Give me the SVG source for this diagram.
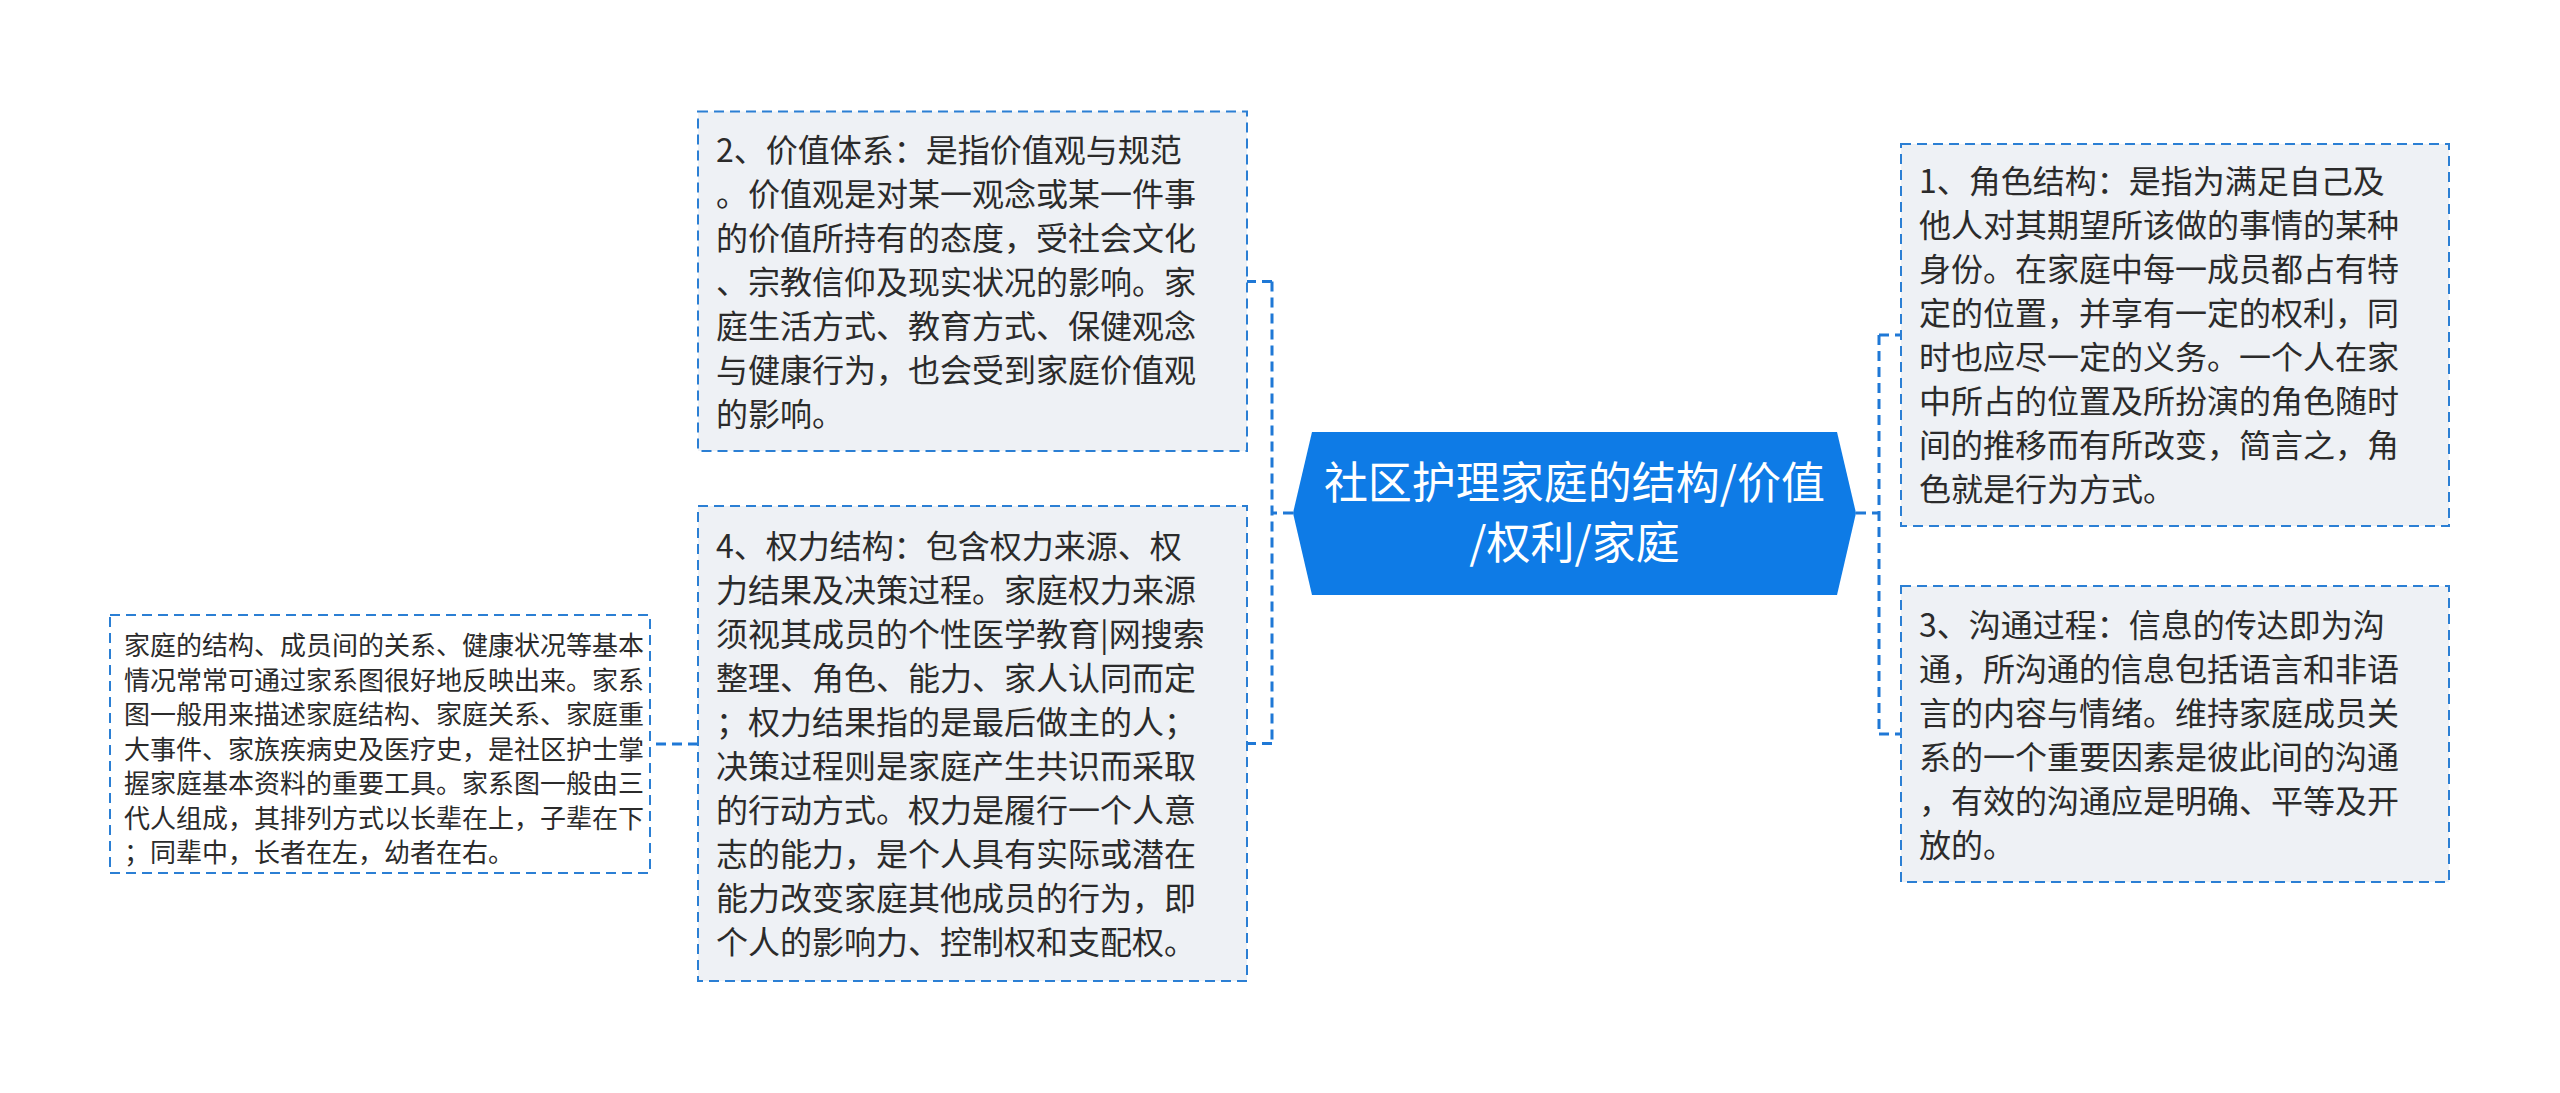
<svg xmlns="http://www.w3.org/2000/svg" width="2560" height="1093" viewBox="0 0 2560 1093">
<style>
.box{fill:#eef1f5;stroke:#2b7fd4;stroke-width:2;stroke-dasharray:10 6}
.box2{fill:#ffffff;stroke:#2b7fd4;stroke-width:2;stroke-dasharray:10 6}
.t{font-family:"Noto Sans CJK SC","Noto Sans",sans-serif;font-size:32px;fill:#2b2b2b}
.ts{font-family:"Noto Sans CJK SC","Noto Sans",sans-serif;font-size:26px;fill:#2b2b2b}
.tc{font-family:"Noto Sans CJK SC","Noto Sans",sans-serif;font-size:44px;fill:#ffffff;text-anchor:middle}
.c{fill:none;stroke:#1f78d6;stroke-width:3;stroke-dasharray:10 6}
</style>
<rect width="2560" height="1093" fill="#ffffff"/>
<g id="connectors">
<path class="c" d="M1293,513 H1272 M1272,281.5 V743.5 M1272,281.5 H1247 M1272,743.5 H1247"/>
<path class="c" d="M1856,513 H1879 M1879,335 V734 M1879,335 H1900 M1879,734 H1900"/>
<path class="c" d="M698,744 H650"/>
</g>
<g id="center">
<polygon points="1293,513 1312,432 1837,432 1856,513 1837,595 1312,595" fill="#0e7be6"/>
<text class="tc" x="1574.5" y="499">社区护理家庭的结构/价值</text>
<text class="tc" x="1574.5" y="559">/权利/家庭</text>
</g>
<g id="node2">
<rect class="box" x="698" y="111.5" width="549" height="339.5"/>
<text class="t" x="716" y="161.5">2、价值体系：是指价值观与规范</text>
<text class="t" x="716" y="205.5">。价值观是对某一观念或某一件事</text>
<text class="t" x="716" y="249.5">的价值所持有的态度，受社会文化</text>
<text class="t" x="716" y="293.5">、宗教信仰及现实状况的影响。家</text>
<text class="t" x="716" y="337.5">庭生活方式、教育方式、保健观念</text>
<text class="t" x="716" y="381.5">与健康行为，也会受到家庭价值观</text>
<text class="t" x="716" y="425.5">的影响。</text>
</g>
<g id="node4">
<rect class="box" x="698" y="506" width="549" height="475"/>
<text class="t" x="716" y="557.5">4、权力结构：包含权力来源、权</text>
<text class="t" x="716" y="601.5">力结果及决策过程。家庭权力来源</text>
<text class="t" x="716" y="645.5">须视其成员的个性医学教育|网搜索</text>
<text class="t" x="716" y="689.5">整理、角色、能力、家人认同而定</text>
<text class="t" x="716" y="733.5">；权力结果指的是最后做主的人；</text>
<text class="t" x="716" y="777.5">决策过程则是家庭产生共识而采取</text>
<text class="t" x="716" y="821.5">的行动方式。权力是履行一个人意</text>
<text class="t" x="716" y="865.5">志的能力，是个人具有实际或潜在</text>
<text class="t" x="716" y="909.5">能力改变家庭其他成员的行为，即</text>
<text class="t" x="716" y="953.5">个人的影响力、控制权和支配权。</text>
</g>
<g id="node-family-tree">
<rect class="box2" x="110" y="615" width="540" height="258"/>
<text class="ts" x="124" y="655">家庭的结构、成员间的关系、健康状况等基本</text>
<text class="ts" x="124" y="689.5">情况常常可通过家系图很好地反映出来。家系</text>
<text class="ts" x="124" y="724">图一般用来描述家庭结构、家庭关系、家庭重</text>
<text class="ts" x="124" y="758.5">大事件、家族疾病史及医疗史，是社区护士掌</text>
<text class="ts" x="124" y="793">握家庭基本资料的重要工具。家系图一般由三</text>
<text class="ts" x="124" y="827.5">代人组成，其排列方式以长辈在上，子辈在下</text>
<text class="ts" x="124" y="862">；同辈中，长者在左，幼者在右。</text>
</g>
<g id="node1">
<rect class="box" x="1901" y="144" width="548" height="382"/>
<text class="t" x="1919" y="193">1、角色结构：是指为满足自己及</text>
<text class="t" x="1919" y="237">他人对其期望所该做的事情的某种</text>
<text class="t" x="1919" y="281">身份。在家庭中每一成员都占有特</text>
<text class="t" x="1919" y="325">定的位置，并享有一定的权利，同</text>
<text class="t" x="1919" y="369">时也应尽一定的义务。一个人在家</text>
<text class="t" x="1919" y="413">中所占的位置及所扮演的角色随时</text>
<text class="t" x="1919" y="457">间的推移而有所改变，简言之，角</text>
<text class="t" x="1919" y="501">色就是行为方式。</text>
</g>
<g id="node3">
<rect class="box" x="1901" y="586" width="548" height="296"/>
<text class="t" x="1919" y="637">3、沟通过程：信息的传达即为沟</text>
<text class="t" x="1919" y="681">通，所沟通的信息包括语言和非语</text>
<text class="t" x="1919" y="725">言的内容与情绪。维持家庭成员关</text>
<text class="t" x="1919" y="769">系的一个重要因素是彼此间的沟通</text>
<text class="t" x="1919" y="813">，有效的沟通应是明确、平等及开</text>
<text class="t" x="1919" y="857">放的。</text>
</g>
</svg>
